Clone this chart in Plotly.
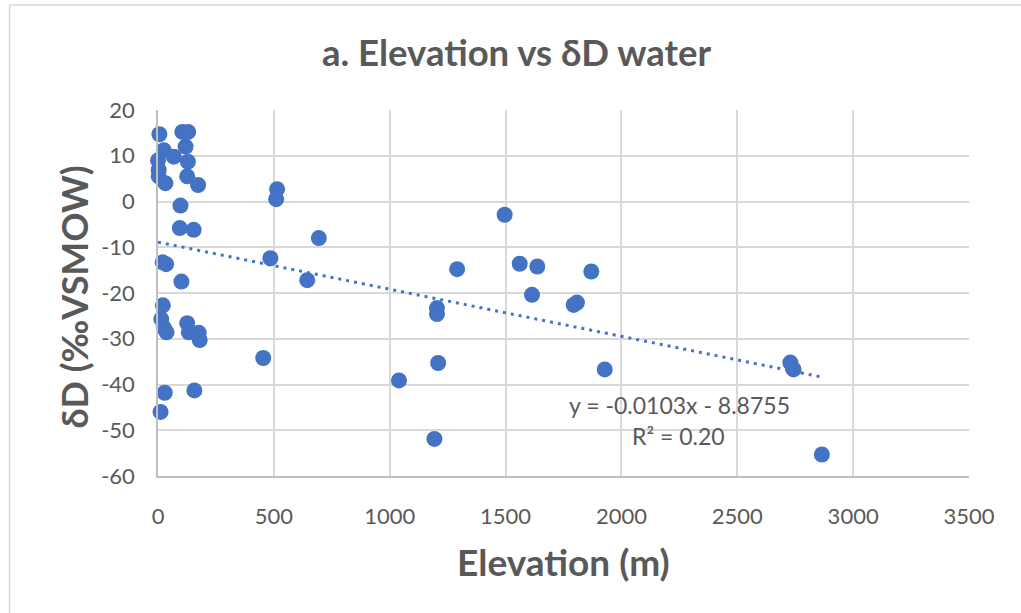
import plotly.graph_objects as go

# Data
elevation_m = [6, 105, 130, 119, 25, 0, 68, 129, 3, 3, 126, 32, 173, 514, 510,
               97, 94, 154, 694, 20, 35, 485, 101, 644, 21, 14, 25, 37, 126, 133,
               176, 180, 454, 29, 157, 11, 1496, 1291, 1561, 1637, 1614, 1204,
               1204, 1794, 1808, 1870, 1209, 1040, 1928, 2729, 2743, 2865, 1193]
delta_d = [14.7, 15.2, 15.2, 12.0, 11.2, 9.0, 9.8, 8.7, 6.9, 5.5, 5.5, 4.0, 3.6,
           2.7, 0.5, -0.9, -5.8, -6.2, -8.0, -13.3, -13.7, -12.4, -17.5, -17.2,
           -22.7, -25.7, -27.6, -28.6, -26.6, -28.6, -28.7, -30.3, -34.2, -41.8,
           -41.3, -46.0, -2.9, -14.8, -13.6, -14.2, -20.4, -23.3, -24.6, -22.6,
           -22.1, -15.3, -35.3, -39.1, -36.7, -35.2, -36.7, -55.3, -51.9]

trend_slope = -0.0103
trend_intercept = -8.8755
r_squared = 0.20

x_ticks = [0, 500, 1000, 1500, 2000, 2500, 3000, 3500]
y_ticks = [20, 10, 0, -10, -20, -30, -40, -50, -60]

title_text = "a. Elevation vs δD water"
x_title = "Elevation (m)"
y_title = "δD (‰VSMOW)"

BLUE = "#4472C4"
GRAY = "#595959"
GRID = "#d9d9d9"
FONT = "Lato"

fig = go.Figure()

# trendline from equation over the data range
tx = [min(elevation_m), max(elevation_m)]
ty = [trend_slope * v + trend_intercept for v in tx]
fig.add_trace(go.Scatter(x=tx, y=ty, mode="lines",
                         line=dict(color=BLUE, width=3, dash="3px,5px"),
                         hoverinfo="skip", showlegend=False))

fig.add_trace(go.Scatter(x=elevation_m, y=delta_d, mode="markers",
                         marker=dict(color=BLUE, size=16, line=dict(width=0)),
                         cliponaxis=False, showlegend=False))

L, R, T, B = 157.5, 52, 110, 137
W, H = 1021, 613
pw, ph = W - L - R, H - T - B

def px_x(p):
    return (p - L) / pw

def px_y(p):
    return (H - B - p) / ph

fig.update_layout(
    width=W, height=H,
    margin=dict(l=L, r=R, t=T, b=B, pad=0),
    paper_bgcolor="white", plot_bgcolor="white",
    font=dict(family=FONT, color=GRAY),
    showlegend=False,
    xaxis=dict(range=[0, 3500], tickvals=x_ticks, ticktext=[str(v) for v in x_ticks],
               showgrid=True, gridcolor=GRID, gridwidth=1.5,
               showline=True, linecolor="#bfbfbf", linewidth=1.5,
               zeroline=False, ticks="outside", ticklen=20,
               tickcolor="rgba(0,0,0,0)", tickfont=dict(size=22, color=GRAY)),
    yaxis=dict(range=[-60, 20], tickvals=y_ticks, ticktext=[str(v) for v in y_ticks],
               showgrid=True, gridcolor=GRID, gridwidth=1.5,
               showline=True, linecolor="#bfbfbf", linewidth=1.5,
               zeroline=False, ticks="outside", ticklen=17,
               tickcolor="rgba(0,0,0,0)", tickfont=dict(size=22, color=GRAY)),
    shapes=[dict(type="rect", xref="paper", yref="paper",
                 x0=px_x(9), x1=px_x(1040), y0=px_y(640), y1=px_y(5),
                 line=dict(color=GRID, width=1.5), fillcolor="rgba(0,0,0,0)",
                 layer="below")],
    annotations=[
        dict(text="<b>" + title_text + "</b>", xref="paper", yref="paper",
             x=px_x(516.7), y=px_y(52), xanchor="center", yanchor="middle",
             showarrow=False, font=dict(size=36.5, color=GRAY, family=FONT)),
        dict(text="<b>" + x_title + "</b>", xref="paper", yref="paper",
             x=px_x(563), y=px_y(561), xanchor="center", yanchor="middle",
             showarrow=False, font=dict(size=37, color=GRAY, family=FONT)),
        dict(text="<b>" + y_title + "</b>", xref="paper", yref="paper",
             x=px_x(73), y=px_y(297), xanchor="center", yanchor="middle",
             textangle=-90, showarrow=False,
             font=dict(size=36, color=GRAY, family=FONT)),
        dict(text=f"y = {trend_slope:.4f}x - {abs(trend_intercept):.4f}",
             xref="x", yref="y", x=2249, y=-44.5, xanchor="center", yanchor="middle",
             showarrow=False, font=dict(size=23, color=GRAY, family=FONT)),
        dict(text=f"R² = {r_squared:.2f}",
             xref="x", yref="y", x=2245, y=-51.3, xanchor="center", yanchor="middle",
             showarrow=False, font=dict(size=23, color=GRAY, family=FONT)),
    ],
)

fig.write_html("out.html")
